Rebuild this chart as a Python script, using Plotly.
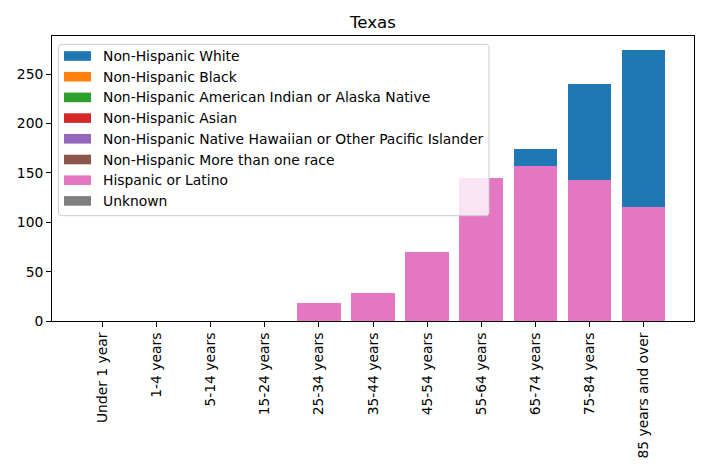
import plotly.graph_objects as go

categories = ["Under 1 year", "1-4 years", "5-14 years", "15-24 years", "25-34 years",
              "35-44 years", "45-54 years", "55-64 years", "65-74 years", "75-84 years",
              "85 years and over"]

series_names = ["Non-Hispanic White", "Non-Hispanic Black",
                "Non-Hispanic American Indian or Alaska Native", "Non-Hispanic Asian",
                "Non-Hispanic Native Hawaiian or Other Pacific Islander",
                "Non-Hispanic More than one race", "Hispanic or Latino", "Unknown"]

nh_white = [0, 0, 0, 0, 0, 0, 0, 0, 17, 97, 160]
nh_black = [0] * 11
nh_aian = [0] * 11
nh_asian = [0] * 11
nh_nhpi = [0] * 11
nh_multi = [0] * 11
hispanic = [0, 0, 0, 0, 18, 28, 70, 145, 157, 143, 115]
unknown = [0] * 11

colors = ["#1f77b4", "#ff7f0e", "#2ca02c", "#d62728", "#9467bd", "#8c564b", "#e377c2", "#7f7f7f"]

series_values = {
    "Non-Hispanic White": nh_white,
    "Non-Hispanic Black": nh_black,
    "Non-Hispanic American Indian or Alaska Native": nh_aian,
    "Non-Hispanic Asian": nh_asian,
    "Non-Hispanic Native Hawaiian or Other Pacific Islander": nh_nhpi,
    "Non-Hispanic More than one race": nh_multi,
    "Hispanic or Latino": hispanic,
    "Unknown": unknown,
}
stack_order = ["Hispanic or Latino", "Non-Hispanic White", "Non-Hispanic Black",
               "Non-Hispanic American Indian or Alaska Native", "Non-Hispanic Asian",
               "Non-Hispanic Native Hawaiian or Other Pacific Islander",
               "Non-Hispanic More than one race", "Unknown"]

W, H = 708, 472
L, R, T, B = 52, 14, 36, 151
pw, ph = W - L - R, H - T - B

totals = [sum(series_values[n][i] for n in series_names) for i in range(len(categories))]
ymax = max(totals) * 1.05

fig = go.Figure()
for name in stack_order:
    fig.add_trace(go.Bar(
        x=list(range(len(categories))), y=series_values[name], name=name,
        marker=dict(color=colors[series_names.index(name)], line=dict(width=0)),
        showlegend=False,
    ))

FONT = "DejaVu Sans"
FS = 13.89

def px2x(px):
    return (px - L) / pw

def py2y(py):
    return (H - B - py) / ph

shapes = []
annotations = []
x0, x1, y0, y1 = px2x(58.5), px2x(489), py2y(215.7), py2y(44.3)
rx, ry = 3 / pw, 3 / ph
path = (f"M{x0+rx},{y1} L{x1-rx},{y1} Q{x1},{y1} {x1},{y1-ry} L{x1},{y0+ry} "
        f"Q{x1},{y0} {x1-rx},{y0} L{x0+rx},{y0} Q{x0},{y0} {x0},{y0+ry} "
        f"L{x0},{y1-ry} Q{x0},{y1} {x0+rx},{y1} Z")
shapes.append(dict(type="path", xref="paper", yref="paper", path=path,
                   fillcolor="rgba(255,255,255,0.8)", line=dict(color="#cccccc", width=1),
                   layer="above"))
row0, pitch = 56.0, 20.7
for i, name in enumerate(series_names):
    cy = row0 + i * pitch
    shapes.append(dict(type="rect", xref="paper", yref="paper",
                       x0=px2x(64), x1=px2x(91), y0=py2y(cy + 4.8), y1=py2y(cy - 4.8),
                       fillcolor=colors[i], line=dict(width=0), layer="above"))
    annotations.append(dict(text=name, xref="paper", yref="paper", x=px2x(102), y=py2y(cy),
                            xanchor="left", yanchor="middle", showarrow=False, borderpad=0,
                            font=dict(family=FONT, size=FS, color="black")))

fig.update_layout(
    width=W, height=H,
    margin=dict(l=L, r=R, t=T, b=B, autoexpand=False),
    paper_bgcolor="white", plot_bgcolor="white",
    barmode="stack", bargap=0.2,
    title=dict(text="Texas", x=(L + pw / 2) / W, xanchor="center", xref="container",
               y=1 - 22.5 / H, yanchor="middle", yref="container",
               font=dict(family=FONT, size=16.67, color="black")),
    font=dict(family=FONT, size=FS, color="black"),
    shapes=shapes, annotations=annotations,
    xaxis=dict(range=[-0.94, len(categories) - 1 + 0.94], tickmode="array",
               tickvals=list(range(len(categories))), ticktext=categories, tickangle=-90,
               showgrid=False, zeroline=False, showline=True, mirror=True,
               linecolor="black", linewidth=1, ticks="outside", ticklen=4.9, tickwidth=1,
               tickcolor="black", tickfont=dict(family=FONT, size=FS, color="black")),
    yaxis=dict(range=[0, ymax], tickmode="array", tickvals=[0, 50, 100, 150, 200, 250],
               showgrid=False, zeroline=False, showline=True, mirror=True,
               linecolor="black", linewidth=1, ticks="outside", ticklen=4.9, tickwidth=1,
               tickcolor="black", tickfont=dict(family=FONT, size=FS, color="black")),
)

fig.write_html("out.html", config={"displayModeBar": False},
               post_script="document.body.style.margin='0';document.body.style.overflow='hidden';")
